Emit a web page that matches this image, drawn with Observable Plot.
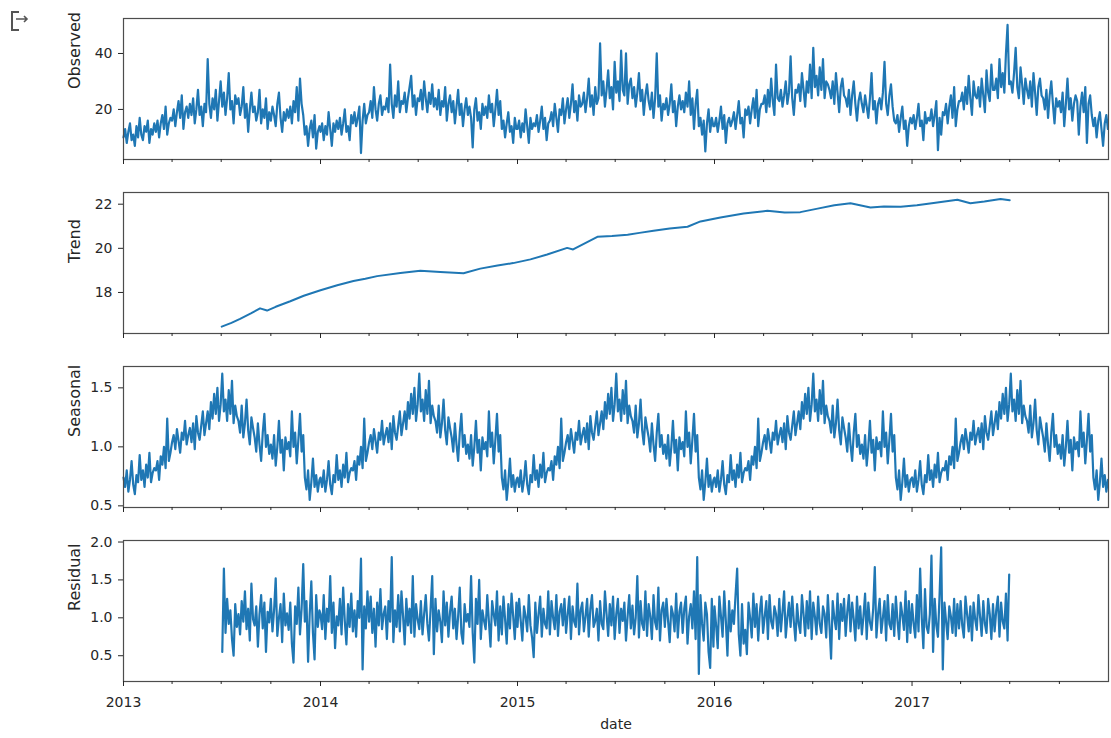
<!DOCTYPE html>
<html>
<head>
<meta charset="utf-8">
<script src="https://cdn.jsdelivr.net/npm/d3@7"></script>
<script src="https://cdn.jsdelivr.net/npm/@observablehq/plot@0.6"></script>
<style>
  html, body { margin: 0; padding: 0; background: #fff; }
  #wrap { position: relative; width: 1111px; height: 738px; overflow: hidden; background: #fff; }
  #plots svg { display: block; }
  #icon { position: absolute; left: 0; top: 0; }
</style>
</head>
<body>
<div id="wrap">
  <svg id="icon" width="40" height="40" viewBox="0 0 40 40">
    <path d="M19 12 H12 V30 H19" fill="none" stroke="#555" stroke-width="2"/>
    <path d="M16 19 H27 M24 16 L27 19 L24 22" fill="none" stroke="#555" stroke-width="1.6"/>
  </svg>
  <div id="plots"></div>
</div>
<script>
// ---------- data (one sample every 3 days within each year) ----------
const years = [2013, 2014, 2015, 2016, 2017];
const STEP = 3;

// Observed (Jan..Dec, 122 samples per year)
const observed2013 = [10,13,8,12,15,9,11,7,14,10,17, 11,9,14,12,16,8,13,11,15, 12,16,10,15,18,13,21,11,15,17, 16,20,14,19,23,17,25,13,19,21, 17,22,18,24,15,20,27,18,21,14,22, 19,38,22,17,24,20,27,16,23,30, 21,26,18,24,33,20,23,15,25,22, 24,18,21,28,17,22,12,20,26,19, 21,16,19,27,15,20,17,24,13,19, 16,21,18,14,22,26,17,12,19,16,20, 17,21,15,23,19,28,16,31,22,18, 11,14,7,13,16,10,18,6,12,14];
const observed2014 = [12,15,9,14,11,19,13,7,15,12,16, 13,17,11,15,20,12,14,9,18, 15,19,14,17,21,4.4,16,22,15,18, 19,23,17,28,20,16,22,25,18,21, 20,24,19,36,22,17,25,21,30,19,23, 22,26,19,24,28,32,21,25,18,24, 23,27,20,30,24,19,26,22,29,21, 24,20,27,18,23,21,28,16,22,25, 19,23,15,21,27,18,22,14,20,24, 18,21,17,6.4,20,24,16,19,13,22,18, 21,17,25,19,22,14,20,27,18,23, 13,16,10,15,19,12,14,8,17,13];
const observed2015 = [13,16,10,15,12,20,14,8,17,13,15, 14,18,12,16,21,13,17,9,15, 16,19,14,22,17,12,20,18,24,15, 20,24,17,22,29,19,23,16,25,21, 22,26,19,24,31,21,25,18,28,22,24, 43.6,25,30,21,27,34,24,28,20,37, 26,30,23,41,27,25,40,22,29,31, 24,28,21,26,33,23,27,18,25,29, 23,20,26,17,24,40,21,25,16,22, 20,24,18,22,29,19,23,14,21,25,20, 23,19,26,21,30,18,24,13,22,27, 14,17,11,16,5,15,20,12,17,14];
const observed2016 = [14,17,12,16,21,13,18,8,15,17,14, 16,19,13,18,23,15,17,10,20, 18,21,15,20,24,17,27,14,20,22, 22,25,19,27,21,31,23,18,36,24, 23,27,21,25,30,22,26,39,24,18,27, 26,29,23,33,27,21,30,26,36,24, 42,28,32,25,35,27,38,24,30,29, 27,24,30,22,33,26,19,28,31,25, 24,21,27,18,25,30,22,16,23,26, 22,19,25,21,17,24,33,20,23,15,22, 24,20,26,37,22,18,25,29,21,16, 15,18,12,17,21,13,16,7,14,17];
const observed2017 = [15,18,13,17,22,14,16,9,19,15,17, 16,20,14,18,23,5.4,17,11,19, 18,22,15,21,25,17,28,14,20,23, 23,26,20,28,22,32,24,18,30,25, 24,28,21,31,25,19,34,26,23,36,27, 27,31,24,38,28,33,26,40,50.2,29, 30,26,33,42,28,24,35,29,22,31, 27,24,30,21,33,26,18,28,31,25, 24,20,27,17,25,30,22,15,24,21, 23,19,26,14,22,31,20,24,16,22,25, 23,11,21,26,19,28,8,22,25,18, 14,17,10,16,19,13,7,15,18,13];

// Trend (centred moving average, Jul 2013 .. Jul 2017)
const trendDates = ["2013-07-02","2013-07-20","2013-08-05","2013-08-25","2013-09-11","2013-09-24","2013-10-10","2013-11-06","2013-12-01","2014-01-01","2014-02-01","2014-03-03","2014-03-25","2014-04-16","2014-05-29","2014-07-05","2014-08-11","2014-09-23","2014-10-24","2014-11-25","2014-12-24","2015-01-25","2015-02-25","2015-04-03","2015-04-14","2015-05-29","2015-06-25","2015-07-24","2015-08-15","2015-09-10","2015-10-10","2015-11-12","2015-12-06","2016-01-12","2016-02-24","2016-04-08","2016-05-10","2016-06-08","2016-07-10","2016-08-10","2016-09-09","2016-10-16","2016-11-10","2016-12-11","2017-01-10","2017-02-10","2017-03-26","2017-04-19","2017-05-15","2017-06-14","2017-07-01"];
const trendValues = [16.45,16.62,16.80,17.05,17.28,17.18,17.35,17.60,17.85,18.10,18.33,18.52,18.62,18.74,18.88,18.98,18.93,18.87,19.08,19.22,19.33,19.50,19.72,20.02,19.95,20.52,20.56,20.62,20.70,20.80,20.90,20.98,21.22,21.40,21.58,21.70,21.62,21.64,21.80,21.95,22.04,21.85,21.90,21.88,21.95,22.05,22.20,22.04,22.12,22.24,22.18];

// Seasonal (Jan..Dec, 122 samples per year; the yearly pattern repeats)
const seasonal2013 = [0.74,0.66,0.80,0.62,0.72,0.88,0.68,0.60,0.76,0.70,0.93, 0.72,0.80,0.66,0.85,0.74,0.95,0.70,0.78,0.82, 0.80,0.88,0.72,0.92,0.85,1.00,0.82,1.24,0.88,0.95, 1.04,1.10,0.98,1.15,1.05,0.95,1.12,1.06,1.22,1.02, 1.10,1.16,1.04,1.20,0.98,1.26,1.12,1.06,1.18,1.30,1.10, 1.20,1.30,1.15,1.38,1.24,1.45,1.28,1.50,1.22,1.36, 1.62,1.30,1.40,1.22,1.48,1.28,1.56,1.20,1.35,1.26, 1.22,1.12,1.35,1.08,1.20,1.40,1.14,1.02,1.25,1.16, 1.08,0.96,1.20,1.02,0.88,1.12,1.28,1.00,1.10,0.94, 1.02,0.90,1.10,0.84,1.00,1.22,0.95,1.06,0.80,1.08,0.98, 1.04,0.92,1.30,1.00,1.12,0.86,1.06,1.28,0.96,1.10, 0.74,0.64,0.80,0.55,0.70,0.90,0.66,0.76,0.62,0.72];
const seasonal2014 = [0.74,0.66,0.80,0.62,0.72,0.88,0.68,0.60,0.76,0.70,0.93, 0.72,0.80,0.66,0.85,0.74,0.95,0.70,0.78,0.82, 0.80,0.88,0.72,0.92,0.85,1.00,0.82,1.24,0.88,0.95, 1.04,1.10,0.98,1.15,1.05,0.95,1.12,1.06,1.22,1.02, 1.10,1.16,1.04,1.20,0.98,1.26,1.12,1.06,1.18,1.30,1.10, 1.20,1.30,1.15,1.38,1.24,1.45,1.28,1.50,1.22,1.36, 1.62,1.30,1.40,1.22,1.48,1.28,1.56,1.20,1.35,1.26, 1.22,1.12,1.35,1.08,1.20,1.40,1.14,1.02,1.25,1.16, 1.08,0.96,1.20,1.02,0.88,1.12,1.28,1.00,1.10,0.94, 1.02,0.90,1.10,0.84,1.00,1.22,0.95,1.06,0.80,1.08,0.98, 1.04,0.92,1.30,1.00,1.12,0.86,1.06,1.28,0.96,1.10, 0.74,0.64,0.80,0.55,0.70,0.90,0.66,0.76,0.62,0.72];
const seasonal2015 = [0.74,0.66,0.80,0.62,0.72,0.88,0.68,0.60,0.76,0.70,0.93, 0.72,0.80,0.66,0.85,0.74,0.95,0.70,0.78,0.82, 0.80,0.88,0.72,0.92,0.85,1.00,0.82,1.24,0.88,0.95, 1.04,1.10,0.98,1.15,1.05,0.95,1.12,1.06,1.22,1.02, 1.10,1.16,1.04,1.20,0.98,1.26,1.12,1.06,1.18,1.30,1.10, 1.20,1.30,1.15,1.38,1.24,1.45,1.28,1.50,1.22,1.36, 1.62,1.30,1.40,1.22,1.48,1.28,1.56,1.20,1.35,1.26, 1.22,1.12,1.35,1.08,1.20,1.40,1.14,1.02,1.25,1.16, 1.08,0.96,1.20,1.02,0.88,1.12,1.28,1.00,1.10,0.94, 1.02,0.90,1.10,0.84,1.00,1.22,0.95,1.06,0.80,1.08,0.98, 1.04,0.92,1.30,1.00,1.12,0.86,1.06,1.28,0.96,1.10, 0.74,0.64,0.80,0.55,0.70,0.90,0.66,0.76,0.62,0.72];
const seasonal2016 = [0.74,0.66,0.80,0.62,0.72,0.88,0.68,0.60,0.76,0.70,0.93, 0.72,0.80,0.66,0.85,0.74,0.95,0.70,0.78,0.82, 0.80,0.88,0.72,0.92,0.85,1.00,0.82,1.24,0.88,0.95, 1.04,1.10,0.98,1.15,1.05,0.95,1.12,1.06,1.22,1.02, 1.10,1.16,1.04,1.20,0.98,1.26,1.12,1.06,1.18,1.30,1.10, 1.20,1.30,1.15,1.38,1.24,1.45,1.28,1.50,1.22,1.36, 1.62,1.30,1.40,1.22,1.48,1.28,1.56,1.20,1.35,1.26, 1.22,1.12,1.35,1.08,1.20,1.40,1.14,1.02,1.25,1.16, 1.08,0.96,1.20,1.02,0.88,1.12,1.28,1.00,1.10,0.94, 1.02,0.90,1.10,0.84,1.00,1.22,0.95,1.06,0.80,1.08,0.98, 1.04,0.92,1.30,1.00,1.12,0.86,1.06,1.28,0.96,1.10, 0.74,0.64,0.80,0.55,0.70,0.90,0.66,0.76,0.62,0.72];
const seasonal2017 = [0.74,0.66,0.80,0.62,0.72,0.88,0.68,0.60,0.76,0.70,0.93, 0.72,0.80,0.66,0.85,0.74,0.95,0.70,0.78,0.82, 0.80,0.88,0.72,0.92,0.85,1.00,0.82,1.24,0.88,0.95, 1.04,1.10,0.98,1.15,1.05,0.95,1.12,1.06,1.22,1.02, 1.10,1.16,1.04,1.20,0.98,1.26,1.12,1.06,1.18,1.30,1.10, 1.20,1.30,1.15,1.38,1.24,1.45,1.28,1.50,1.22,1.36, 1.62,1.30,1.40,1.22,1.48,1.28,1.56,1.20,1.35,1.26, 1.22,1.12,1.35,1.08,1.20,1.40,1.14,1.02,1.25,1.16, 1.08,0.96,1.20,1.02,0.88,1.12,1.28,1.00,1.10,0.94, 1.02,0.90,1.10,0.84,1.00,1.22,0.95,1.06,0.80,1.08,0.98, 1.04,0.92,1.30,1.00,1.12,0.86,1.06,1.28,0.96,1.10, 0.74,0.64,0.80,0.55,0.70,0.90,0.66,0.76,0.62,0.72];

// Residual (2013 from July, 2017 until June)
const residual2013 = [0.55,1.65,0.80,1.25,0.92,1.10,0.72,0.50,1.18,0.88, 1.05,0.78,1.22,0.95,1.35,0.85,1.12,0.70,1.45,0.98, 0.90,1.15,0.62,1.05,1.30,0.86,1.20,0.55,1.08,0.94, 1.25,0.82,1.10,1.52,0.76,1.00,1.18,0.68,1.32,0.90,1.06, 0.84,1.20,0.66,0.41,1.15,0.92,1.40,0.78,1.12,1.71, 0.95,1.22,0.42,1.05,1.48,0.80,0.45,1.30,0.88,1.10];
const residual2014 = [1.05,0.85,1.30,0.72,1.12,0.95,1.55,0.80,1.20,0.60,1.02, 0.90,1.25,0.78,1.40,0.96,0.65,1.18,0.88,1.32, 0.82,1.10,0.75,1.22,1.00,1.78,0.32,1.15,0.86,1.35, 0.95,1.28,0.80,1.12,0.62,1.20,0.90,1.38,0.85,1.05, 1.15,0.72,1.22,0.95,1.80,0.68,1.10,0.88,1.30,0.82,1.35, 1.02,0.65,1.25,0.90,1.12,0.80,1.55,0.75,1.18,0.98, 0.85,1.22,0.78,1.05,1.30,0.92,0.70,1.12,1.55,0.52, 1.25,0.82,1.10,0.95,0.68,1.35,0.90,1.20,0.75,1.08, 1.28,0.86,1.12,0.72,1.02,1.40,0.80,0.66,1.18,0.95, 1.05,0.88,1.55,0.80,0.41,1.25,0.92,1.50,0.72,1.10,0.96, 0.85,1.30,0.95,0.62,1.22,1.05,0.90,1.35,0.70,1.15, 0.78,1.28,0.98,0.66,1.18,0.86,1.32,1.02,0.72,1.20];
const residual2015 = [0.88,1.25,0.96,0.70,1.15,1.02,0.82,1.30,0.90,0.74,0.48, 1.20,0.80,1.05,1.28,0.75,1.12,0.92,0.86,1.35, 0.78,1.22,1.00,0.85,1.30,0.76,1.08,1.18,0.90,1.25, 0.80,1.05,1.28,0.72,1.15,0.95,0.88,1.45,0.78,1.10, 1.20,0.82,1.02,1.25,0.75,1.12,1.30,0.88,0.96,1.12,0.70, 1.22,0.92,0.85,1.35,1.05,0.76,1.18,0.90,1.28,0.72, 1.05,1.25,0.80,1.12,0.96,1.20,0.70,1.02,1.30,0.86, 1.16,0.78,1.00,1.55,0.74,1.22,0.92,0.84,1.35,0.76, 1.18,1.02,0.72,1.30,0.94,0.85,1.40,0.70,1.10,1.20, 0.88,1.25,0.96,0.68,1.15,1.05,0.82,1.32,0.74,1.08,1.20, 0.80,1.12,1.28,0.66,1.02,1.18,0.86,1.35,0.72,1.80, 0.26,1.30,0.92,0.70,1.20,1.05,0.55,0.34,1.25,0.62];
const residual2016 = [1.15,0.90,0.60,1.28,1.02,0.75,1.35,0.96,0.50,1.22,0.82, 1.10,0.92,1.30,1.65,0.78,0.50,1.18,0.66,0.84, 0.52,1.20,1.00,0.74,1.32,0.88,1.18,0.70,1.08,1.28, 0.80,1.02,1.22,0.72,1.30,0.95,0.86,1.15,1.05,0.76, 1.25,0.82,1.08,1.35,0.74,1.00,1.20,0.88,1.28,0.95,0.70, 1.18,0.92,0.80,1.30,1.05,0.76,1.22,0.86,1.35,0.72, 1.20,1.02,0.78,1.28,0.92,0.80,1.15,1.05,0.74,1.30, 0.90,0.46,1.22,1.00,0.85,1.32,0.72,1.18,0.96,1.25, 0.76,1.08,1.30,0.82,1.20,0.98,0.70,1.28,0.86,1.15, 0.78,1.02,1.32,0.72,1.20,0.94,0.84,1.12,1.67,0.74,1.05, 1.25,0.80,1.00,1.22,0.70,1.30,0.92,0.85,1.18,0.76, 1.28,0.96,0.72,1.20,1.04,0.84,1.35,0.68,1.22,0.80];
const residual2017 = [1.18,0.92,0.74,1.30,0.82,1.65,1.00,0.60,1.38,0.88,0.80, 1.05,1.82,0.55,1.25,0.90,0.75,1.30,1.93,0.32, 1.20,0.96,0.72,1.15,1.02,0.80,1.25,0.76,1.18,0.86, 1.22,0.90,0.74,1.28,1.05,0.82,1.15,0.70,1.20,0.98, 0.84,1.30,1.02,0.76,1.22,0.92,0.80,1.25,1.05,0.72,1.18, 0.82,1.10,1.28,0.75,1.20,0.95,0.86,1.32,0.70,1.57];
const residualStartIndex = [61, 0, 0, 0, 0]; // first sample index within each year

// Tick values and labels
const observedTicks = [20, 40];
const trendTicks = [18, 20, 22];
const seasonalTicks = [0.5, 1.0, 1.5];
const residualTicks = [0.5, 1.0, 1.5, 2.0];
const panelLabels = ["Observed", "Trend", "Seasonal", "Residual"];
const xLabel = "date";

// ---------- build rows ----------
function rowsFor(year, values, startIndex = 0) {
  return values.map((v, k) => ({date: new Date(Date.UTC(year, 0, 1 + STEP * (startIndex + k))), value: v}));
}
const observedRows = [observed2013, observed2014, observed2015, observed2016, observed2017]
  .flatMap((vals, i) => rowsFor(years[i], vals));
const seasonalRows = [seasonal2013, seasonal2014, seasonal2015, seasonal2016, seasonal2017]
  .flatMap((vals, i) => rowsFor(years[i], vals));
const residualRows = [residual2013, residual2014, residual2015, residual2016, residual2017]
  .flatMap((vals, i) => rowsFor(years[i], vals, residualStartIndex[i]));
const trendRows = trendDates.map((d, i) => ({date: new Date(d + "T00:00:00Z"), value: trendValues[i]}));

const xDomain = [new Date(Date.UTC(2013, 0, 1)), new Date(Date.UTC(2017, 11, 31))];
const majorTicks = years.map(y => new Date(Date.UTC(y, 0, 1)));
const minorTicks = years.flatMap(y => [3, 6, 9].map(m => new Date(Date.UTC(y, m, 1))));

const FONT = "'DejaVu Sans', sans-serif";
const TEXT = "#262626";
const BLUE = "#1f77b4";

function panel({data, label, domain, ticks, fmt, height, marginBottom, showX, lineWidth}) {
  return Plot.plot({
    width: 1111,
    height,
    marginLeft: 123,
    marginRight: 3,
    marginTop: 18,
    marginBottom,
    style: {fontFamily: FONT, fontSize: "14px", color: TEXT, background: "white", overflow: "visible"},
    x: {type: "utc", domain: xDomain},
    y: {domain},
    marks: [
      Plot.lineY(data, {x: "date", y: "value", stroke: BLUE, strokeWidth: lineWidth}),
      Plot.frame({stroke: "#4d4d4d", strokeWidth: 1.2}),
      Plot.axisY(ticks, {tickSize: 5, tickPadding: 6, tickFormat: fmt, label: null, fontSize: 14}),
      showX
        ? Plot.axisX(majorTicks, {tickSize: 5, tickPadding: 11, tickFormat: d3.utcFormat("%Y"), label: null, fontSize: 14})
        : Plot.axisX(majorTicks, {tickSize: 5, tickFormat: () => "", fill: "none", label: null}),
      Plot.axisX(minorTicks, {tickSize: 3, tickFormat: () => "", fill: "none", label: null}),
      Plot.text([label], {text: d => d, frameAnchor: "left", dx: -49, rotate: -90, fontSize: 16, fill: TEXT}),
      showX ? Plot.text([xLabel], {text: d => d, frameAnchor: "bottom", dy: 47, fontSize: 14, fill: TEXT}) : null
    ]
  });
}

const host = document.getElementById("plots");
host.append(
  panel({data: observedRows, label: panelLabels[0], domain: [2.1, 52.5], ticks: observedTicks, fmt: d3.format("d"), height: 174, marginBottom: 15, showX: false, lineWidth: 2.2}),
  panel({data: trendRows, label: panelLabels[1], domain: [16.14, 22.53], ticks: trendTicks, fmt: d3.format("d"), height: 174, marginBottom: 15, showX: false, lineWidth: 2}),
  panel({data: seasonalRows, label: panelLabels[2], domain: [0.486, 1.681], ticks: seasonalTicks, fmt: d3.format(".1f"), height: 174, marginBottom: 15, showX: false, lineWidth: 2.2}),
  panel({data: residualRows, label: panelLabels[3], domain: [0.16, 2.02], ticks: residualTicks, fmt: d3.format(".1f"), height: 216, marginBottom: 57, showX: true, lineWidth: 2.2})
);
</script>
</body>
</html>
